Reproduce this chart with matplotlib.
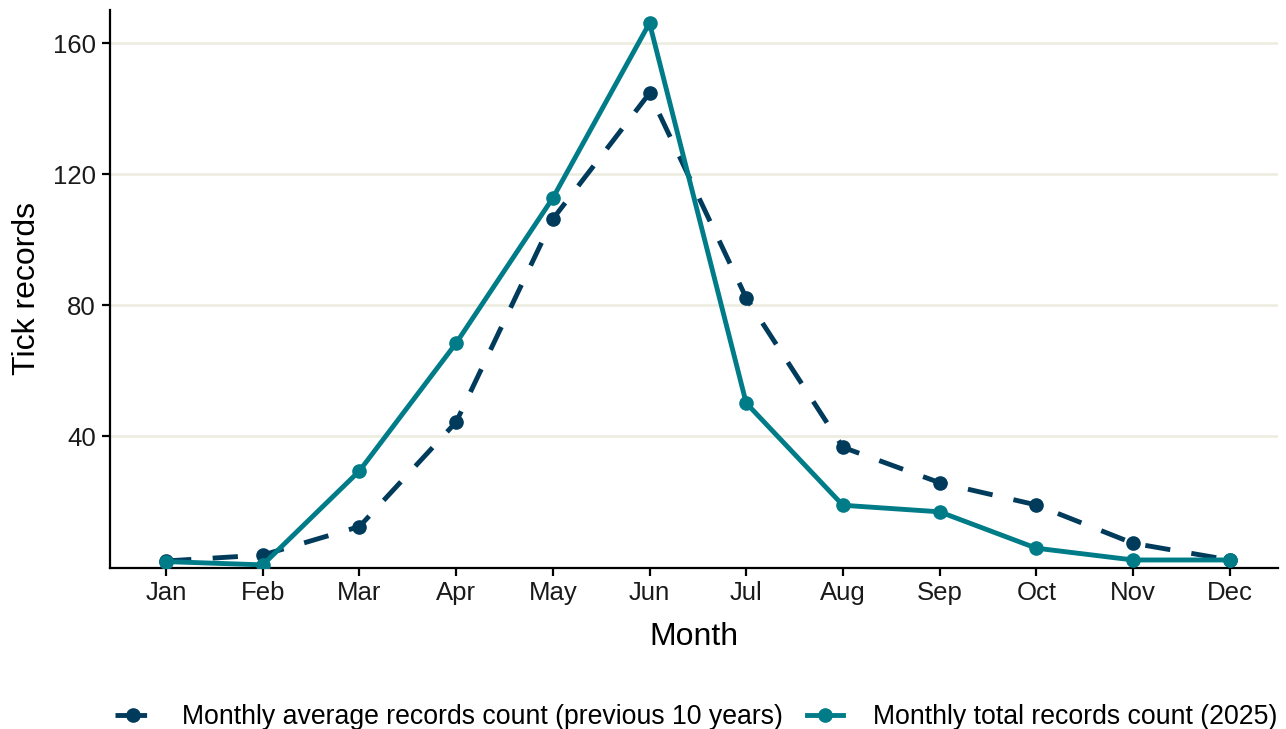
import matplotlib
matplotlib.use("Agg")
import matplotlib.pyplot as plt
from matplotlib.lines import Line2D

plt.rcParams['font.family'] = ['Liberation Sans', 'DejaVu Sans']

months = ["Jan", "Feb", "Mar", "Apr", "May", "Jun", "Jul", "Aug", "Sep", "Oct", "Nov", "Dec"]
avg_10yr = [2.0, 3.8, 12.5, 44.4, 106.4, 144.8, 82.3, 36.7, 25.9, 19.1, 7.4, 2.3]
total_2025 = [1.8, 0.8, 29.5, 68.5, 112.8, 166.2, 50.2, 19.0, 17.0, 5.9, 2.3, 2.3]
yticks = [40, 80, 120, 160]

dark = "#003B5C"
teal = "#007C89"

fig = plt.figure(figsize=(12.86, 7.29), dpi=100)
ax = fig.add_axes([110/1286, 1-567.5/729, (1278-110)/1286, (567.5-10)/729])

x = list(range(1, len(months) + 1))
for yv in yticks:
    ax.axhline(yv, color="#ECECDF", lw=1.8, zorder=0)

ax.plot(x, avg_10yr, color=dark, lw=3.5, dashes=(5.2, 4.4), marker="o", ms=9.5,
        zorder=3, dash_capstyle="butt")
ax.plot(x, total_2025, color=teal, lw=3.5, marker="o", ms=9.5, zorder=4)

ax.set_xlim(0.42, 12.5)
ax.set_ylim(0, 170.2)
ax.set_xticks(x)
ax.set_xticklabels(months)
ax.set_yticks(yticks)
ax.tick_params(axis="both", labelsize=18.5, width=1.6, length=6, color="black",
               labelcolor="#1a1a1a", pad=4)
for s in ["top", "right"]:
    ax.spines[s].set_visible(False)
for s in ["left", "bottom"]:
    ax.spines[s].set_linewidth(1.6)

ax.set_xlabel("Month", fontsize=23, labelpad=12)
ax.set_ylabel("Tick records", fontsize=23, labelpad=8)

handles = [
    Line2D([], [], color=dark, lw=3.5, dashes=(2.5, 1.5), marker="o", ms=9.5),
    Line2D([], [], color=teal, lw=3.5, marker="o", ms=9.5),
]
labels = ["Monthly average records count (previous 10 years)", "Monthly total records count (2025)"]
fig.legend(handles, labels, loc="center", bbox_to_anchor=(0.5416, 1-717/729), ncol=2,
           frameon=False, fontsize=19.2, handlelength=1.35, columnspacing=0.9, handletextpad=1.15,
           borderaxespad=0)

fig.savefig("out.png", dpi=100)
